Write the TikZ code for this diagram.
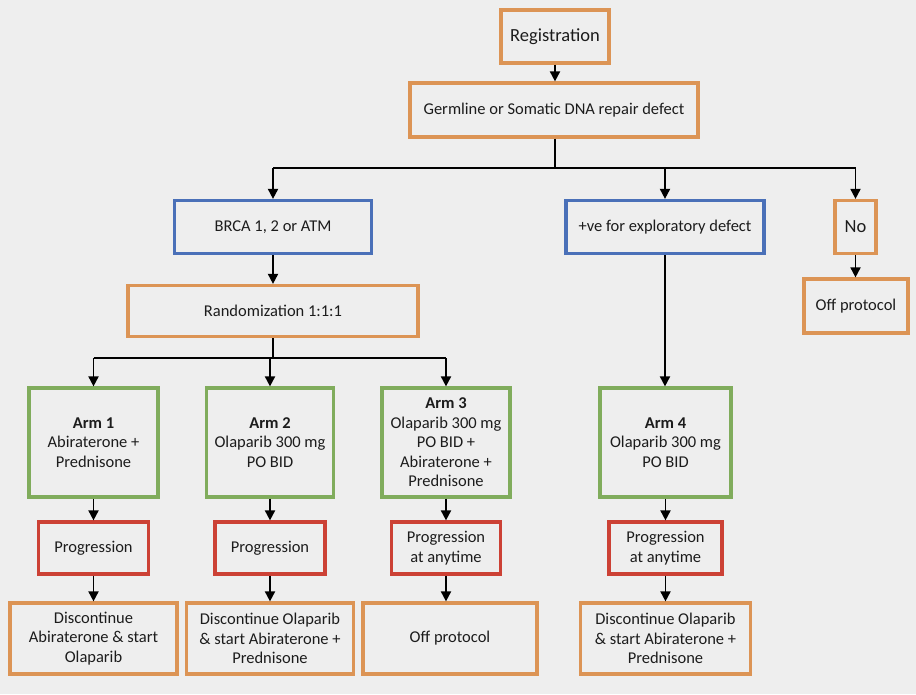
\documentclass[tikz,border=0pt]{standalone}
\usepackage{fontspec}
\setmainfont{Carlito}
\usetikzlibrary{arrows.meta}
\definecolor{bg}{HTML}{EEEEEE}
\definecolor{orangeb}{HTML}{DC9455}
\definecolor{blueb}{HTML}{4A70B8}
\definecolor{greenb}{HTML}{80AC5C}
\definecolor{redb}{HTML}{CC4135}
\definecolor{txt}{HTML}{1C1C1C}
\begin{document}
\begin{tikzpicture}[x=1pt,y=-1pt,
  box/.style={draw,line width=3.2pt,fill=bg,inner sep=1pt,align=center,text=txt,
    font=\fontsize{16.5}{19.5}\selectfont},
  obox/.style={box,draw=orangeb},
  bbox/.style={box,draw=blueb},
  gbox/.style={box,draw=greenb},
  rbox/.style={box,draw=redb},
  big/.style={font=\fontsize{18.5}{22}\selectfont},
  conn/.style={line width=1.8pt,black},
  arr/.style={conn,-{Triangle[width=10pt,length=10pt]}}]
\fill[bg] (0,0) rectangle (916,694);
\useasboundingbox (0,0) rectangle (916,694);

\node[obox,big,minimum width=108pt,minimum height=53pt] (reg) at (555,36.5) {Registration};
\node[obox,minimum width=288pt,minimum height=54pt] (germ) at (554,110) {Germline or Somatic DNA repair defect};
\node[bbox,minimum width=197pt,minimum height=53pt] (brca) at (273,227) {BRCA 1, 2 or ATM};
\node[bbox,minimum width=198pt,minimum height=53pt] (pos) at (665,227) {+ve for exploratory defect};
\node[obox,big,minimum width=41pt,minimum height=53pt] (no) at (855.5,227) {No};
\node[obox,minimum width=104pt,minimum height=54pt] (off0) at (856,306) {Off protocol};
\node[obox,minimum width=290pt,minimum height=51pt] (rand) at (273,311) {Randomization 1:1:1};

\node[gbox,minimum width=129pt,minimum height=109pt] (arm1) at (93.5,442.5) {\textbf{Arm 1}\\Abiraterone +\\Prednisone};
\node[gbox,minimum width=127pt,minimum height=109pt] (arm2) at (270,442.5) {\textbf{Arm 2}\\Olaparib 300 mg\\PO BID};
\node[gbox,minimum width=128pt,minimum height=109pt] (arm3) at (446,442.5) {\textbf{Arm 3}\\Olaparib 300 mg\\PO BID +\\Abiraterone +\\Prednisone};
\node[gbox,minimum width=131pt,minimum height=109pt] (arm4) at (665.5,442.5) {\textbf{Arm 4}\\Olaparib 300 mg\\PO BID};

\node[rbox,minimum width=110pt,minimum height=52pt] (prog1) at (93.5,548) {Progression};
\node[rbox,minimum width=110pt,minimum height=52pt] (prog2) at (270,548) {Progression};
\node[rbox,minimum width=109pt,minimum height=52pt] (prog3) at (446,548) {Progression\\at anytime};
\node[rbox,minimum width=113pt,minimum height=52pt] (prog4) at (665.5,548) {Progression\\at anytime};

\node[obox,minimum width=167pt,minimum height=71pt] (disc1) at (93.5,638.5) {Discontinue\\Abiraterone \& start\\Olaparib};
\node[obox,minimum width=167pt,minimum height=71pt] (disc2) at (270,638.5) {Discontinue Olaparib\\\& start Abiraterone +\\Prednisone};
\node[obox,minimum width=174pt,minimum height=71pt] (off3) at (450,638.5) {Off protocol};
\node[obox,minimum width=170pt,minimum height=71pt] (disc4) at (665.5,638.5) {Discontinue Olaparib\\\& start Abiraterone +\\Prednisone};

\coordinate (b1) at (555,168);
\coordinate (b2) at (273,358);

% top
\draw[arr] (reg.south) -- (reg.south |- germ.north);
\draw[conn] (reg.south |- germ.south) -- (reg.south |- b1);
\draw[conn] (brca.north |- b1) -- (no.north |- b1);
\draw[arr] (brca.north |- b1) -- (brca.north);
\draw[arr] (pos.north |- b1) -- (pos.north);
\draw[arr] (no.north |- b1) -- (no.north);
\draw[arr] (no.south) -- (no.south |- off0.north);

% left branch
\draw[arr] (brca.south) -- (brca.south |- rand.north);
\draw[conn] (rand.south) -- (b2);
\draw[conn] (arm1.north |- b2) -- (arm3.north |- b2);
\draw[arr] (arm1.north |- b2) -- (arm1.north);
\draw[arr] (arm2.north |- b2) -- (arm2.north);
\draw[arr] (arm3.north |- b2) -- (arm3.north);

% right branch
\draw[arr] (pos.south) -- (pos.south |- arm4.north);

% columns
\foreach \i in {1,2,3,4} {
  \draw[arr] (arm\i.south) -- (arm\i.south |- prog\i.north);
}
\draw[arr] (prog1.south) -- (prog1.south |- disc1.north);
\draw[arr] (prog2.south) -- (prog2.south |- disc2.north);
\draw[arr] (prog3.south) -- (prog3.south |- off3.north);
\draw[arr] (prog4.south) -- (prog4.south |- disc4.north);
\end{tikzpicture}
\end{document}
